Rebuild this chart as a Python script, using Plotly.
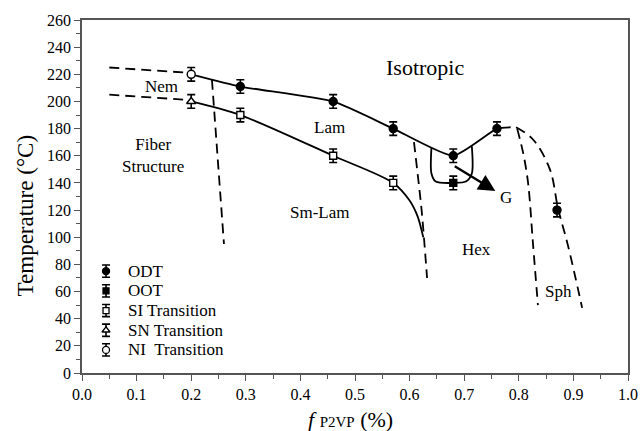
import plotly.graph_objects as go

# ---- measured transitions ----
odt_f = [0.29, 0.46, 0.57, 0.68, 0.76, 0.87]
odt_T = [211, 200, 180, 160, 180, 120]
oot_f = [0.68]
oot_T = [140]
si_f = [0.29, 0.46, 0.57]
si_T = [190, 160, 140]
sn_f = [0.20]
sn_T = [200]
ni_f = [0.20]
ni_T = [220]
err = 5

# ---- phase boundaries (guides) ----
upper_f = [0.20, 0.29, 0.46, 0.57, 0.68, 0.76, 0.785]
upper_T = [220, 211, 200, 180, 160, 180, 181]
lower_f = [0.20, 0.29, 0.46, 0.57, 0.60, 0.615, 0.625]
lower_T = [200, 190, 160, 140, 127, 115, 100]
nem_top_f = [0.05, 0.20]
nem_top_T = [225, 221]
nem_bot_f = [0.05, 0.20]
nem_bot_T = [205, 201]
fiber_f = [0.238, 0.26]
fiber_T = [216, 95]
hex_f = [0.608, 0.622, 0.632]
hex_T = [170, 120, 70]
sph_in_f = [0.797, 0.808, 0.817, 0.826, 0.835]
sph_in_T = [180, 162, 140, 95, 50]
sph_out_f = [0.795, 0.826, 0.857, 0.872, 0.89, 0.916]
sph_out_T = [181, 172, 150, 121, 94, 48]
gyr_f = [0.640, 0.640, 0.648, 0.68, 0.703, 0.714, 0.714]
gyr_T = [166, 147, 141, 140, 141, 147, 167]

legend_names = ["ODT", "OOT", "SI Transition", "SN Transition", "NI  Transition"]
legend_symbols = ["circle", "square", "square-open", "triangle-up-open", "circle-open"]
legend_sizes = [7, 6, 6, 7, 7]
legend_T = [75, 60.5, 46, 31.5, 17]

font_family = "Liberation Serif"
ink = "black"
frame = "#555555"

fig = go.Figure()

def curve(xs, ys, dash="solid", shape="spline", smooth=0.7):
    fig.add_trace(go.Scatter(
        x=xs, y=ys, mode="lines",
        line=dict(color=ink, width=1.8, dash=dash, shape=shape, smoothing=smooth),
        showlegend=False, hoverinfo="skip"))

dashed = "10px,6px"
curve(upper_f, upper_T, smooth=0.5)
curve(lower_f, lower_T, smooth=0.8)
curve(nem_top_f, nem_top_T, dashed, "linear")
curve(nem_bot_f, nem_bot_T, dashed, "linear")
curve(fiber_f, fiber_T, dashed, "linear")
curve(hex_f, hex_T, dashed)
curve(sph_in_f, sph_in_T, dashed, smooth=1.0)
curve(sph_out_f, sph_out_T, dashed, smooth=1.0)
curve(gyr_f, gyr_T, "solid", smooth=0.8)

def points(xs, ys, symbol, size, name, filled):
    fig.add_trace(go.Scatter(
        x=xs, y=ys, mode="markers", name=name,
        marker=dict(symbol=symbol, size=size, color=ink if filled else "white",
                    line=dict(color=ink, width=1.4)),
        error_y=dict(type="constant", value=err, color=ink, thickness=1.6, width=4),
        showlegend=False))

points(odt_f, odt_T, "circle", 8, "ODT", True)
points(oot_f, oot_T, "square", 7, "OOT", True)
points(si_f, si_T, "square", 7, "SI Transition", False)
points(sn_f, sn_T, "triangle-up", 8, "SN Transition", False)
points(ni_f, ni_T, "circle", 8, "NI Transition", False)

# key drawn inside the lower-left corner
for name, sym, sz, ty in zip(legend_names, legend_symbols, legend_sizes, legend_T):
    filled = "open" not in sym
    fig.add_trace(go.Scatter(
        x=[0.044], y=[ty], mode="markers",
        marker=dict(symbol=sym.replace("-open", ""), size=sz,
                    color=ink if filled else "white", line=dict(color=ink, width=1.3)),
        error_y=dict(type="constant", value=4.5, color=ink, thickness=1.6, width=4),
        showlegend=False, hoverinfo="skip"))
    fig.add_annotation(x=0.08, y=ty, text=name, showarrow=False, xanchor="left",
                       yanchor="middle", font=dict(size=17, family=font_family, color=ink))

# region labels
labels = [
    ("Isotropic", 0.628, 225, 22),
    ("Nem", 0.146, 211, 17),
    ("Fiber<br>Structure", 0.13, 160, 17),
    ("Lam", 0.454, 181, 17),
    ("Sm-Lam", 0.436, 118, 17),
    ("Hex", 0.723, 91, 17),
    ("Sph", 0.873, 60, 17),
    ("G", 0.777, 129, 17),
]
for txt, lx, ly, fs in labels:
    fig.add_annotation(x=lx, y=ly, text=txt, showarrow=False,
                       font=dict(size=fs, family=font_family, color=ink))

# arrow pointing towards the G window
fig.add_annotation(x=0.757, y=134, ax=0.68, ay=153, axref="x", ayref="y",
                   xref="x", yref="y", text="", showarrow=True,
                   arrowhead=2, arrowsize=1.4, arrowwidth=2.4, arrowcolor=ink)

# axis titles
fig.add_annotation(xref="paper", x=-0.104, y=115.5, yref="y", text="Temperature (°C)",
                   textangle=-90, showarrow=False, xanchor="center", yanchor="middle",
                   font=dict(size=23, family=font_family, color=ink))
fig.add_annotation(xref="paper", yref="paper", x=0.491, y=-0.133,
                   text="<i>f</i> <span style='font-size:15px'>P2VP</span> (%)",
                   showarrow=False, xanchor="center", yanchor="middle",
                   font=dict(size=22, family=font_family, color=ink))

axis_common = dict(
    showline=True, linecolor=frame, linewidth=1.6, mirror=True,
    ticks="outside", ticklen=6, tickwidth=1.3, tickcolor=frame,
    showgrid=False, zeroline=False, automargin=False,
    tickfont=dict(size=16, family=font_family, color=ink),
)
fig.update_xaxes(range=[0, 1.0], dtick=0.1, tickformat=".1f",
                 minor=dict(dtick=0.05, ticks="outside", ticklen=4, tickcolor=frame, tickwidth=1.2),
                 **axis_common)
fig.update_yaxes(range=[0, 260], dtick=20,
                 minor=dict(dtick=10, ticks="outside", ticklen=4, tickcolor=frame, tickwidth=1.2),
                 **axis_common)

fig.update_layout(
    width=641, height=431,
    margin=dict(l=82, r=13, t=20, b=58),
    plot_bgcolor="white", paper_bgcolor="white",
    font=dict(family=font_family, color=ink),
    showlegend=False,
)

fig.write_html("out.html")
